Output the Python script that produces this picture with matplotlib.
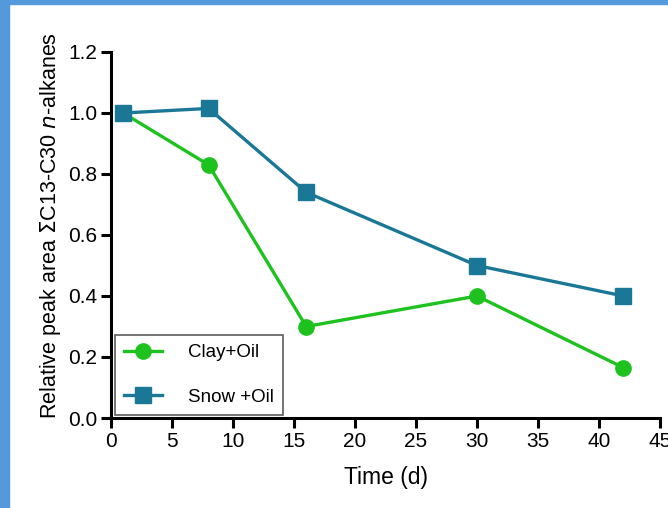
import matplotlib
matplotlib.use("Agg")
import matplotlib.pyplot as plt
from matplotlib.patches import Rectangle

plt.rcParams['font.family'] = ['Liberation Sans', 'DejaVu Sans']

time_clay = [1, 8, 16, 30, 42]
clay_oil = [1.0, 0.83, 0.30, 0.40, 0.165]
time_snow = [1, 8, 16, 30, 42]
snow_oil = [1.0, 1.015, 0.74, 0.50, 0.40]
xticks = [0, 5, 10, 15, 20, 25, 30, 35, 40, 45]
yticks = [0.0, 0.2, 0.4, 0.6, 0.8, 1.0, 1.2]

green = '#1ec21e'
teal = '#1a7896'

fig = plt.figure(figsize=(6.68, 5.08), dpi=100)
# blue frame
fig.patches.append(Rectangle((0, 0), 9/668, 1, transform=fig.transFigure, color='#5499dc', zorder=0))
fig.patches.append(Rectangle((0, 1-4/508), 1, 4/508, transform=fig.transFigure, color='#5499dc', zorder=0))

ax = fig.add_axes([111/668, 1-418/508, 549/668, 366/508])
ax.plot(time_clay, clay_oil, '-o', color=green, lw=2.4, ms=11, label='Clay+Oil', clip_on=False, zorder=3)
ax.plot(time_snow, snow_oil, '-s', color=teal, lw=2.4, ms=11, label='Snow +Oil', clip_on=False, zorder=3)

ax.set_xlim(0, 45)
ax.set_ylim(0, 1.2)
ax.set_xticks(xticks)
ax.set_yticks(yticks)
ax.set_yticklabels([f'{v:.1f}' for v in yticks])
for s in ['top', 'right']:
    ax.spines[s].set_visible(False)
for s in ['left', 'bottom']:
    ax.spines[s].set_linewidth(2.2)
ax.tick_params(axis='both', width=2.2, length=7, labelsize=15, pad=3)

ax.set_xlabel('Time (d)', fontsize=16.5, labelpad=11)
ax.set_ylabel(r'Relative peak area $\Sigma$C13-C30 $n$-alkanes', fontsize=15.5)
ax.yaxis.set_label_coords(-0.087, 0.527)

leg = ax.legend(loc='lower left', bbox_to_anchor=(4/549, 3/366), fontsize=13.5, frameon=True,
                fancybox=False, edgecolor='#333333', handlelength=2.0, borderpad=0.5,
                labelspacing=1.45, handletextpad=1.4, borderaxespad=0)
leg.get_frame().set_linewidth(1.2)

fig.savefig('out.png', dpi=100)
